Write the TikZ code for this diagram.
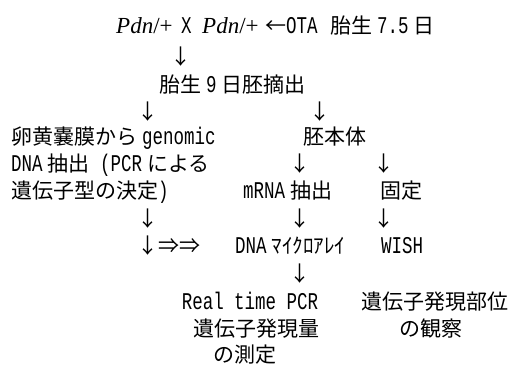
\documentclass[tikz,border=0pt]{standalone}
\usepackage{fontspec}
\newfontfamily\jp{Noto Sans CJK JP}
\newfontfamily\mnf[FakeStretch=0.729]{Liberation Mono}
\newcommand\mn{\mnf\fontsize{24}{24}\selectfont}
\newfontfamily\tmf{Liberation Serif}
\newcommand\tm{\tmf\fontsize{23}{23}\selectfont}
\newcommand\ag{\hspace{5pt}}
\begin{document}
\begin{tikzpicture}[x=1pt,y=-1pt,
  txt/.style={inner sep=0pt, text height=18pt, text depth=2pt, font=\jp\fontsize{21}{21}\selectfont},
  lft/.style={txt, anchor=west},
  arr/.style={txt, anchor=center}]
\path[use as bounding box] (0,0) rectangle (513,367);
% row 1
\node[lft] (p1) at (116,25) {{\tm\itshape Pdn}{\tm /+}};
\node[lft] (x) at (181,25) {{\mn X}};
\node[lft] (p2) at (202,25) {{\tm\itshape Pdn}{\tm /+}};
\node[lft] (ota) at (265,25) {←{\mn OTA}};
\node[lft] (d75) at (330,25) {胎生\ag{\mn 7.5}\ag 日};
\node[arr] (a1) at (181,56) {↓};
\node[lft] (emb) at (159,84) {胎生\ag{\mn 9}\ag 日胚摘出};
\node[arr] (a2) at (148,111) {↓};
\node[arr] (a3) at (320,111) {↓};
% left branch
\node[lft] (l1) at (11,136) {卵黄嚢膜から\ag{\mn genomic}};
\node[lft] (l2) at (11,163) {{\mn DNA}\ag 抽出{\mn\ (PCR}\ag による};
\node[lft] (l3) at (11,190) {遺伝子型の決定{\mn )}};
\node[arr] (a6) at (148,218) {↓};
\node[lft] (a9) at (137,245) {↓⇒⇒};
% right branch
\node[lft] (body) at (303,136) {胚本体};
\node[arr] (a4) at (300,163) {↓};
\node[arr] (a5) at (384,163) {↓};
\node[lft] (mrna) at (243,190) {{\mn mRNA}\ag 抽出};
\node[lft] (fix) at (380,190) {固定};
\node[arr] (a7) at (300,218) {↓};
\node[arr] (a8) at (384,218) {↓};
\node[lft] (dna) at (235,245) {{\mn DNA}\ag ﾏｲｸﾛｱﾚｲ};
\node[lft] (wish) at (381,245) {{\mn WISH}};
\node[arr] (a10) at (300,273) {↓};
\node[arr] (rt) at (250,301) {{\mn Real time PCR}};
\node[lft] (ryo) at (193,328) {遺伝子発現量};
\node[lft] (sok) at (213,354) {の測定};
\node[lft] (bui) at (361,301) {遺伝子発現部位};
\node[lft] (kan) at (399,328) {の観察};
\end{tikzpicture}
\end{document}
